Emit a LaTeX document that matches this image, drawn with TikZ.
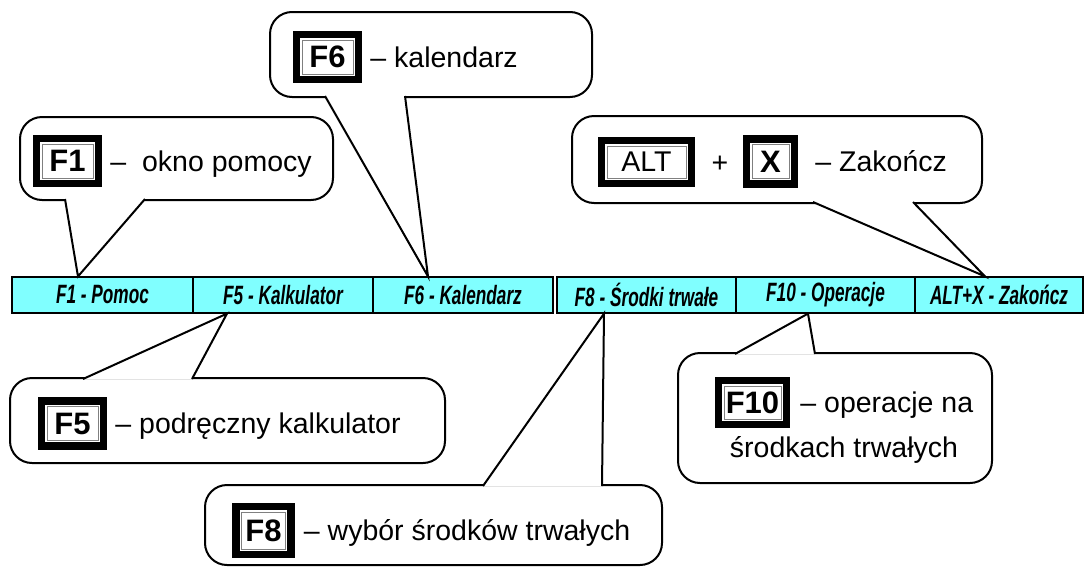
\documentclass[tikz,border=0pt]{standalone}
\usepackage{fontspec}
\setmainfont{Liberation Sans}
\newfontfamily\pasekfont[FakeStretch=0.65]{Liberation Sans}
\usetikzlibrary{positioning}

\definecolor{pasekkolor}{RGB}{128,255,255}

\tikzset{
  pole/.style={draw, line width=1.2pt, fill=pasekkolor, minimum height=36pt, inner sep=0pt,
    font=\pasekfont\bfseries\itshape\fontsize{26.5}{28}\selectfont},
  dymek/.style={draw, line width=2pt, fill=white, rounded corners=22pt, inner sep=0pt},
  ogon/.style={draw, line width=2pt, fill=white, line join=miter},
  klawisz/.style={draw, line width=7.5pt, fill=white, minimum width=62pt, minimum height=45pt,
    inner sep=0pt, font=\bfseries\fontsize{31}{33}\selectfont,
    path picture={\draw[gray, line width=1pt]
      ([shift={(5.5pt,-5.5pt)}]path picture bounding box.north west) rectangle
      ([shift={(-5.5pt,5.5pt)}]path picture bounding box.south east);}},
  opis/.style={inner sep=0pt, font=\fontsize{28.5}{32}\selectfont}
}

\begin{document}
\begin{tikzpicture}[x=1pt, y=-1pt]
\useasboundingbox (0,0) rectangle (1087,568);

% pasek z klawiszami
\node[pole, minimum width=181pt] (s1) at (102.5,295) {F1 - Pomoc};
\node[pole, minimum width=180pt] (s2) at (283,295) {F5 - Kalkulator};
\node[pole, minimum width=180pt] (s3) at (463,295) {F6 - Kalendarz};
\node[pole, minimum width=179pt] (s4) at (646.5,295) {F8 - Środki trwałe};
\node[pole, minimum width=179pt] (s5) at (825.5,295) {F10 - Operacje};
\node[pole, minimum width=168pt] (s6) at (999,295) {ALT+X - Zakończ};

% dymki
\node[dymek, minimum width=313pt, minimum height=83pt] (d1) at (176.5,158.5) {};
\node[dymek, minimum width=322pt, minimum height=85pt] (d6) at (431,54.5) {};
\node[dymek, minimum width=410pt, minimum height=87pt] (dx) at (777,159.5) {};
\node[dymek, minimum width=435pt, minimum height=85pt] (d5) at (227.5,420.5) {};
\node[dymek, minimum width=457pt, minimum height=80pt] (d8) at (433.5,525) {};
\node[dymek, minimum width=314pt, minimum height=130pt] (d10) at (835,418) {};

% ogonki
\draw[ogon] ([xshift=-111.5pt,yshift=2pt]d1.south) -- ([xshift=-24.5pt]s1.north) -- ([xshift=-31.5pt,yshift=2pt]d1.south);
\draw[ogon] ([xshift=-106pt,yshift=2pt]d6.south) -- ([xshift=-35pt]s3.north) -- ([xshift=-26pt,yshift=2pt]d6.south);
\draw[ogon] ([xshift=36pt,yshift=2pt]dx.south) -- ([xshift=-14pt]s6.north) -- ([xshift=136pt,yshift=2pt]dx.south);
\draw[ogon] ([xshift=-144.5pt,yshift=-2pt]d5.north) -- ([xshift=-56pt]s2.south) -- ([xshift=-35.5pt,yshift=-2pt]d5.north);
\draw[ogon] ([xshift=49.5pt,yshift=-2pt]d8.north) -- ([xshift=-42.5pt]s4.south) -- ([xshift=168.5pt,yshift=-2pt]d8.north);
\draw[ogon] ([xshift=-100pt,yshift=-2pt]d10.north) -- ([xshift=-17.5pt]s5.south) -- ([xshift=-20pt,yshift=-2pt]d10.north);

% F1
\node[klawisz] (k1) at (67.5,161) {F1};
\node[opis, right=8pt of k1, anchor=base west, yshift=-10pt] (t1) {–\ \ okno pomocy};
% F6
\node[klawisz] (k6) at (327.5,57) {F6};
\node[opis, right=8pt of k6, anchor=base west, yshift=-10pt] (t6) {– kalendarz};
% ALT+X
\node[klawisz, minimum width=90pt, minimum height=43pt, font=\fontsize{28.5}{30}\selectfont] (kalt) at (646.5,162) {ALT};
\node[klawisz, minimum width=48pt] (kx) at (770.5,161.5) {X};
\node[opis, anchor=base] (plus) at (720,172) {+};
\node[opis, right=17pt of kx, anchor=base west, yshift=-10pt] (tx) {– Zakończ};
% F5
\node[klawisz] (k5) at (72.5,423.5) {F5};
\node[opis, right=8pt of k5, anchor=base west, yshift=-10pt] (t5) {– podręczny kalkulator};
% F8
\node[klawisz, minimum width=55pt, minimum height=48pt] (k8) at (263.5,530.5) {F8};
\node[opis, right=9pt of k8, anchor=base west, yshift=-10pt] (t8) {– wybór środków trwałych};
% F10
\node[klawisz, minimum width=68pt, minimum height=44pt] (k10) at (752.5,402.5) {F10};
\node[opis, right=10pt of k10, anchor=base west, yshift=-10pt] (t10) {– operacje na};
\node[opis, anchor=base] (t10b) at (844,457) {środkach trwałych};
\end{tikzpicture}
\end{document}
